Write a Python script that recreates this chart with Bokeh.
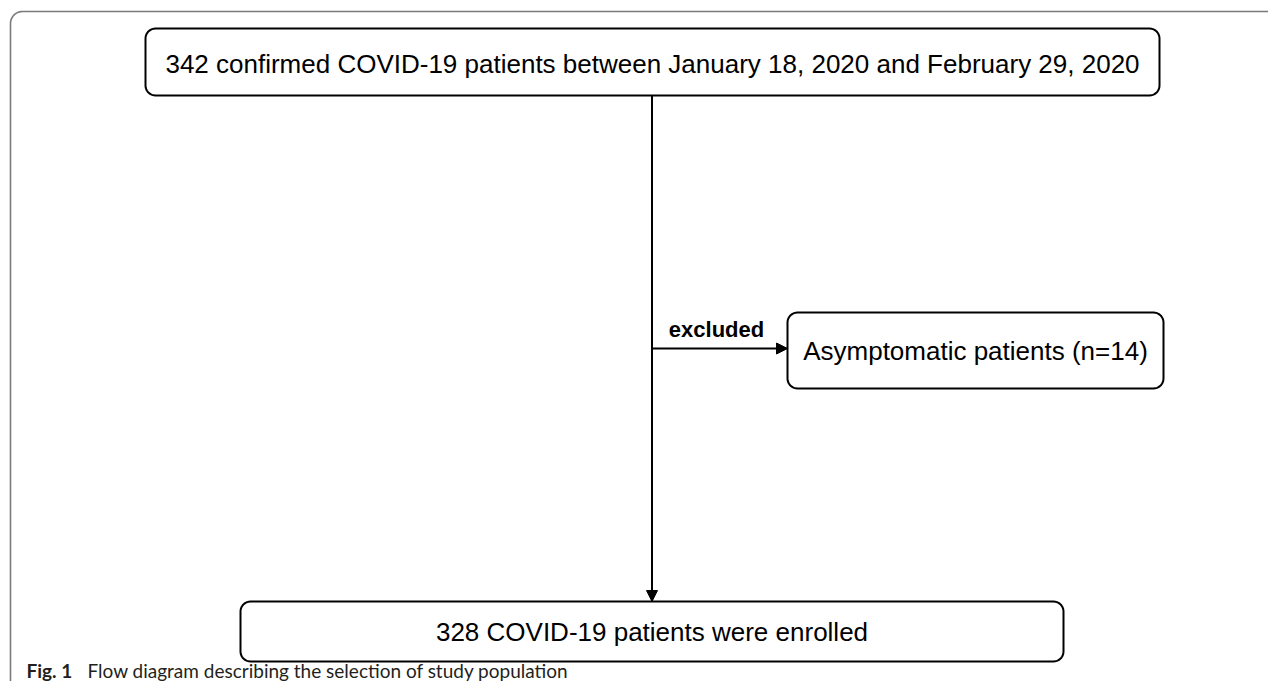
import numpy as np
from bokeh.plotting import figure
from bokeh.models import Range1d, Arrow, NormalHead
from bokeh.core.properties import value
from bokeh.embed import file_html
from bokeh.resources import INLINE

# ---- data (texts / counts) ----
n_confirmed = 342
n_excluded = 14
n_enrolled = 328
box_labels = [
    f"{n_confirmed} confirmed COVID-19 patients between January 18, 2020 and February 29, 2020",
    f"Asymptomatic patients (n={n_excluded})",
    f"{n_enrolled} COVID-19 patients were enrolled",
]
edge_label = "excluded"
caption_bold = "Fig. 1"
caption_text = "Flow diagram describing the selection of study population"

# ---- layout (pixel coordinates, y grows downward) ----
W, H = 1268, 681
boxes = [  # x0, y0, x1, y1, text centre y
    (145, 28, 1159, 95, 63),
    (787, 312, 1163, 388, 350),
    (240, 601, 1063, 661, 631),
]
trunk_x = 651.5
branch_y = 348

p = figure(width=W, height=H, output_backend="svg", toolbar_location=None,
           x_range=Range1d(0, W), y_range=Range1d(H, 0),
           x_axis_type=None, y_axis_type=None, min_border=0,
           outline_line_color=None, background_fill_color="white",
           border_fill_color="white")
p.grid.visible = False


def rounded_rect(x0, y0, x1, y1, r, n=10):
    xs, ys = [], []
    corners = [((x1 - r, y0 + r), -90, 0), ((x1 - r, y1 - r), 0, 90),
               ((x0 + r, y1 - r), 90, 180), ((x0 + r, y0 + r), 180, 270)]
    for (cx, cy), a0, a1 in corners:
        t = np.radians(np.linspace(a0, a1, n))
        xs.extend(cx + r * np.cos(t))
        ys.extend(cy + r * np.sin(t))
    return xs, ys


# outer frame (grey, open to right/bottom)
t = np.radians(np.linspace(180, 270, 12))
r0 = 12
fx = [10] + list(10 + r0 + r0 * np.cos(t)) + [1320]
fy = [740] + list(11 + r0 + r0 * np.sin(t)) + [11]
p.line(fx, fy, line_color="#7a7a7a", line_width=1.6)

# boxes
bx, by = [], []
for (x0, y0, x1, y1, _) in boxes:
    xs, ys = rounded_rect(x0, y0, x1, y1, 10)
    bx.append(xs)
    by.append(ys)
p.patches(bx, by, fill_color="white", line_color="black", line_width=2)

# connectors
p.add_layout(Arrow(end=NormalHead(size=11, fill_color="black", line_color="black", line_width=1),
                   x_start=trunk_x, y_start=boxes[0][3], x_end=trunk_x, y_end=boxes[2][1],
                   line_color="black", line_width=2))
p.add_layout(Arrow(end=NormalHead(size=11, fill_color="black", line_color="black", line_width=1),
                   x_start=trunk_x, y_start=branch_y, x_end=boxes[1][0], y_end=branch_y,
                   line_color="black", line_width=2))

# box texts
p.text(x=[(b[0] + b[2]) / 2 for b in boxes], y=[b[4] for b in boxes], text=box_labels,
       text_font=value("Liberation Sans"), text_font_size="26px",
       text_align="center", text_baseline="middle", text_color="black")

# edge label
p.text(x=[716], y=[329], text=[edge_label], text_font=value("Liberation Sans"),
       text_font_size="22px", text_font_style="bold", text_align="center",
       text_baseline="middle", text_color="black")

# caption
p.text(x=[26], y=[670], text=[caption_bold], text_font=value("Lato"),
       text_font_size="19px", text_font_style="bold", text_align="left",
       text_baseline="middle", text_color="#231f20")
p.text(x=[87], y=[670], text=[caption_text], text_font=value("Lato"),
       text_font_size="19px", text_align="left",
       text_baseline="middle", text_color="#231f20")

open("out.html", "w").write(file_html(p, INLINE))
